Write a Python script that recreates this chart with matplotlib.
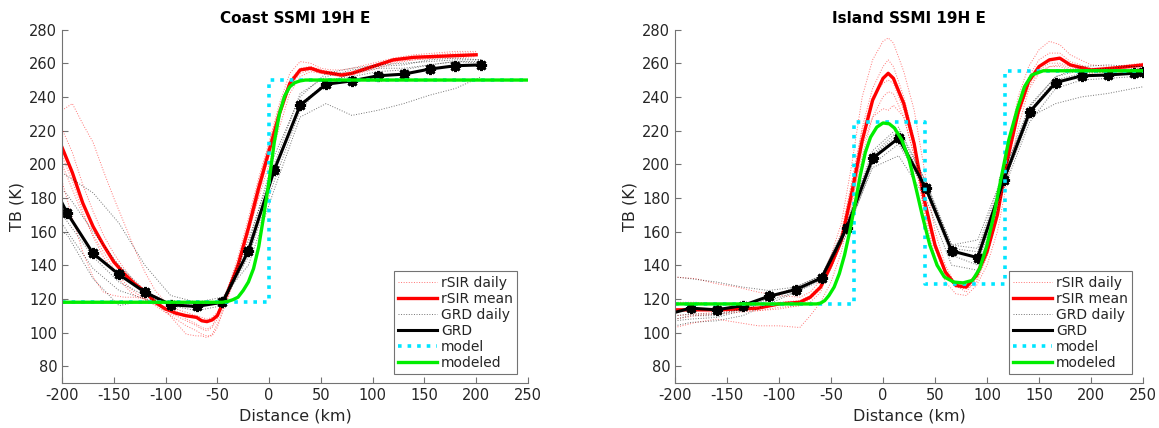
import matplotlib
matplotlib.use("Agg")
import matplotlib.pyplot as plt

plt.rcParams["axes.unicode_minus"] = False

# ---------------- Coast profile ----------------
coast_grd_x = [-200, -195, -170, -145, -120, -95, -70, -45, -20, 5, 30, 55, 80, 105, 130, 155, 180, 205]
coast_grd = [177, 171, 147, 134.5, 124, 116.5, 115.5, 118, 148.5, 196.5, 235, 247.5, 249.5, 252.5, 253.5, 256.5, 258.5, 259]
coast_grd_daily = [
    [195, 193, 183, 165, 140, 122, 118, 121, 140, 185, 228, 236, 229, 232, 236, 241, 245, 252],
    [165, 160, 138, 125, 120, 118, 117, 119, 152, 205, 240, 254, 257, 259, 260, 261, 262, 262],
    [185, 182, 160, 140, 125, 117, 116, 117, 145, 190, 232, 250, 252, 255, 256, 259, 261, 261],
    [160, 158, 132, 116, 119, 117, 115, 119, 155, 200, 242, 252, 256, 258, 259, 262, 263, 262],
    [170, 166, 145, 130, 122, 116, 113, 116, 150, 198, 236, 248, 254, 257, 257, 259, 261, 260],
]

coast_sir_x = [-200, -190, -180, -170, -160, -150, -140, -130, -120, -110, -100, -90, -80, -70, -65, -60, -55,
               -50, -40, -30, -20, -10, 0, 10, 20, 30, 40, 50, 60, 70, 80, 100, 120, 140, 160, 180, 200]
coast_sir_mean = [210, 195, 177, 163, 152, 142, 135, 129, 124.5, 118, 114, 111.5, 110, 109, 107, 106.5, 107.5,
                  110, 124, 140, 162, 186, 208, 230, 248, 256, 257, 255, 254, 253, 254, 258, 262, 263.5, 264, 264.5, 265]
coast_sir_daily = [
    [232, 236, 224, 213, 196, 180, 165, 150, 136, 125, 118, 113, 108, 105, 103, 102, 104,
     110, 126, 145, 168, 192, 213, 236, 254, 261, 260, 257, 256, 256, 257, 260, 263, 265, 266, 267, 267],
    [221, 207, 188, 172, 158, 147, 138, 130, 124, 118, 112, 108, 104, 101, 99, 98, 98,
     103, 121, 142, 165, 190, 212, 234, 250, 257, 258, 256, 255, 254, 255, 259, 262, 264, 265, 266, 266],
    [200, 185, 170, 158, 148, 138, 130, 124, 120, 116, 112, 110, 107, 104, 102, 101, 103,
     108, 122, 140, 160, 183, 205, 228, 246, 254, 256, 254, 253, 252, 253, 257, 261, 262, 263, 264, 265],
    [190, 168, 148, 133, 124, 122, 121, 121, 120, 117, 115, 114, 112, 110, 109, 108, 109,
     112, 125, 142, 160, 180, 200, 222, 242, 252, 255, 254, 253, 252, 253, 256, 260, 262, 263, 263, 264],
    [205, 190, 172, 157, 145, 136, 128, 122, 120, 117, 113, 106, 99, 98, 98, 97, 99,
     105, 120, 138, 158, 182, 206, 230, 248, 256, 258, 256, 254, 253, 254, 258, 261, 263, 264, 265, 265],
]

coast_model_x = [-200, 0, 0, 250]
coast_model = [118, 118, 250, 250]

coast_fit_x = [-200, -45, -40, -35, -30, -25, -20, -15, -10, -5, 0, 5, 10, 15, 20, 25, 30, 35, 40, 250]
coast_fit = [118, 118, 118.5, 119.5, 121, 125, 130, 138, 151, 170, 190, 213, 230, 240.5, 246, 248.5, 249.5, 250, 250, 250]

# ---------------- Island profile ----------------
island_grd_x = [-200, -185, -160, -135, -110, -84, -59, -35, -10, 15, 41, 66, 91, 116, 141, 166, 191, 216, 241, 250]
island_grd = [112, 114.5, 113.5, 116, 121.5, 125.5, 132.5, 162, 203.5, 215.5, 186, 148.5, 144.5, 190.5, 231,
              248.5, 252.5, 253, 254, 254.5]
island_grd_daily = [
    [133, 132, 130, 127, 125, 127, 134, 165, 208, 222, 190, 152, 150, 195, 235, 252, 258, 259, 258, 258],
    [107, 108, 109, 113, 119, 124, 131, 160, 198, 205, 180, 140, 137, 185, 225, 245, 250, 251, 252, 253],
    [110, 111, 111, 114, 120, 126, 133, 163, 205, 218, 188, 152, 155, 195, 232, 250, 254, 255, 256, 256],
    [104, 106, 107, 110, 117, 124, 132, 158, 200, 212, 184, 146, 140, 188, 228, 236, 240, 242, 245, 246],
    [108, 110, 110, 114, 121, 127, 134, 164, 206, 220, 190, 150, 148, 192, 234, 252, 256, 257, 258, 258],
]

island_sir_x = [-200, -180, -160, -140, -120, -100, -80, -70, -60, -50, -40, -30, -20, -10, 0, 5, 10, 20, 30,
                40, 50, 60, 70, 80, 90, 100, 110, 120, 130, 140, 150, 160, 170, 180, 200, 220, 250]
island_sir_mean = [113.5, 113.5, 113.5, 114, 114.5, 117, 118, 121, 127, 140, 155, 183, 214, 238, 251, 254, 251,
                   236, 212, 178, 152, 136, 128, 127, 134, 148, 170, 204, 231, 249, 258, 262, 263, 259, 256, 257, 259]
island_sir_daily = [
    [133, 132, 129, 127, 124, 122, 121, 124, 131, 146, 165, 200, 240, 262, 273, 275, 272, 255, 232,
     196, 160, 140, 128, 124, 132, 148, 172, 210, 240, 258, 268, 273, 271, 265, 259, 258, 260],
    [103, 106, 108, 106, 104, 104, 103, 110, 118, 130, 148, 175, 210, 228, 233, 232, 235, 228, 205,
     170, 145, 130, 123, 122, 128, 140, 160, 192, 222, 244, 254, 258, 258, 256, 254, 255, 257],
    [110, 111, 112, 113, 113, 114, 116, 118, 124, 140, 158, 188, 222, 245, 258, 262, 258, 240, 215,
     178, 150, 134, 127, 126, 130, 145, 168, 205, 233, 252, 262, 266, 266, 261, 257, 257, 259],
    [118, 118, 117, 116, 116, 118, 119, 122, 128, 142, 160, 190, 220, 240, 248, 250, 248, 232, 210,
     175, 150, 135, 128, 127, 135, 150, 172, 206, 232, 248, 256, 260, 260, 258, 255, 256, 258],
    [108, 110, 111, 112, 113, 115, 116, 120, 126, 138, 152, 178, 205, 228, 240, 243, 242, 228, 205,
     172, 150, 135, 130, 128, 134, 150, 170, 200, 228, 246, 255, 258, 259, 257, 255, 256, 258],
]

island_model_x = [-200, -28, -28, 40, 40, 117, 117, 250]
island_model = [117, 117, 225, 225, 129, 129, 255.5, 255.5]

island_fit_x = [-200, -64, -60, -56, -52, -47, -42, -37, -32, -27, -22, -17, -12, -6, 0, 6, 11, 18, 25, 32, 38,
                45, 52, 59, 68, 77, 86, 93, 100, 107, 114, 121, 129, 136, 143, 154, 172, 250]
island_fit = [117, 117, 117.5, 119, 122, 127, 135, 146, 160, 176, 193, 207, 216, 222, 224.5, 224, 221.5, 214.5,
              203, 185, 169, 152, 140, 133, 130, 129.5, 131, 138, 152, 171, 193, 214.5, 232.5, 246, 253, 255.5,
              255.5, 255.5]

PANELS = [
    ("Coast SSMI 19H E", [0.0535, 0.105, 0.402, 0.826],
     coast_sir_x, coast_sir_daily, coast_sir_mean,
     coast_grd_x, coast_grd_daily, coast_grd,
     coast_model_x, coast_model, coast_fit_x, coast_fit),
    ("Island SSMI 19H E", [0.5824, 0.105, 0.4038, 0.826],
     island_sir_x, island_sir_daily, island_sir_mean,
     island_grd_x, island_grd_daily, island_grd,
     island_model_x, island_model, island_fit_x, island_fit),
]

fig = plt.figure(figsize=(11.59, 4.28), dpi=100)

for (title, pos, sx, sdaily, smean, gx, gdaily, gmean, mx, mv, fx, fv) in PANELS:
    ax = fig.add_axes(pos)
    for i, d in enumerate(sdaily):
        ax.plot(sx, d, ls=":", lw=0.7, color="red", alpha=0.55,
                label="rSIR daily" if i == 0 else None)
    ax.plot(sx, smean, "-", lw=2.4, color="red", label="rSIR mean")
    for i, d in enumerate(gdaily):
        ax.plot(gx, d, ls=":", lw=0.7, color="black", alpha=0.55,
                label="GRD daily" if i == 0 else None)
    ax.plot(gx, gmean, "-", lw=2.2, color="black", label="GRD")
    ax.plot(gx[1:], gmean[1:], ls="none", marker=(8, 2, 0), ms=8, mew=2, color="black")
    ax.plot(mx, mv, ls=":", lw=2.6, color="#00e5ff", label="model")
    ax.plot(fx, fv, "-", lw=2.4, color="#00ee00", label="modeled")

    ax.set_xlim(-200, 250)
    ax.set_ylim(70, 280)
    ax.set_xticks(range(-200, 251, 50))
    ax.set_yticks(range(80, 281, 20))
    ax.spines["top"].set_visible(False)
    ax.spines["right"].set_visible(False)
    for s in ("left", "bottom"):
        ax.spines[s].set_color("0.45")
        ax.spines[s].set_linewidth(0.8)
    ax.tick_params(direction="in", length=4, width=0.8, color="0.45",
                   labelsize=10.5, labelcolor="0.15")
    ax.set_xlabel("Distance (km)", fontsize=11.5, color="0.15", labelpad=4)
    ax.set_ylabel("TB (K)", fontsize=11.5, color="0.15", labelpad=3)
    ax.set_title(title, fontsize=11, fontweight="bold", pad=5)

    leg = ax.legend(loc="lower right", bbox_to_anchor=(0.977, 0.025), borderaxespad=0,
                    fontsize=10, labelspacing=0.15, handlelength=2.8, handletextpad=0.3,
                    borderpad=0.3, fancybox=False, framealpha=1)
    leg.get_frame().set_edgecolor("0.45")
    leg.get_frame().set_linewidth(0.8)
    for t in leg.get_texts():
        t.set_color("0.15")

fig.savefig("out.png", dpi=100)
